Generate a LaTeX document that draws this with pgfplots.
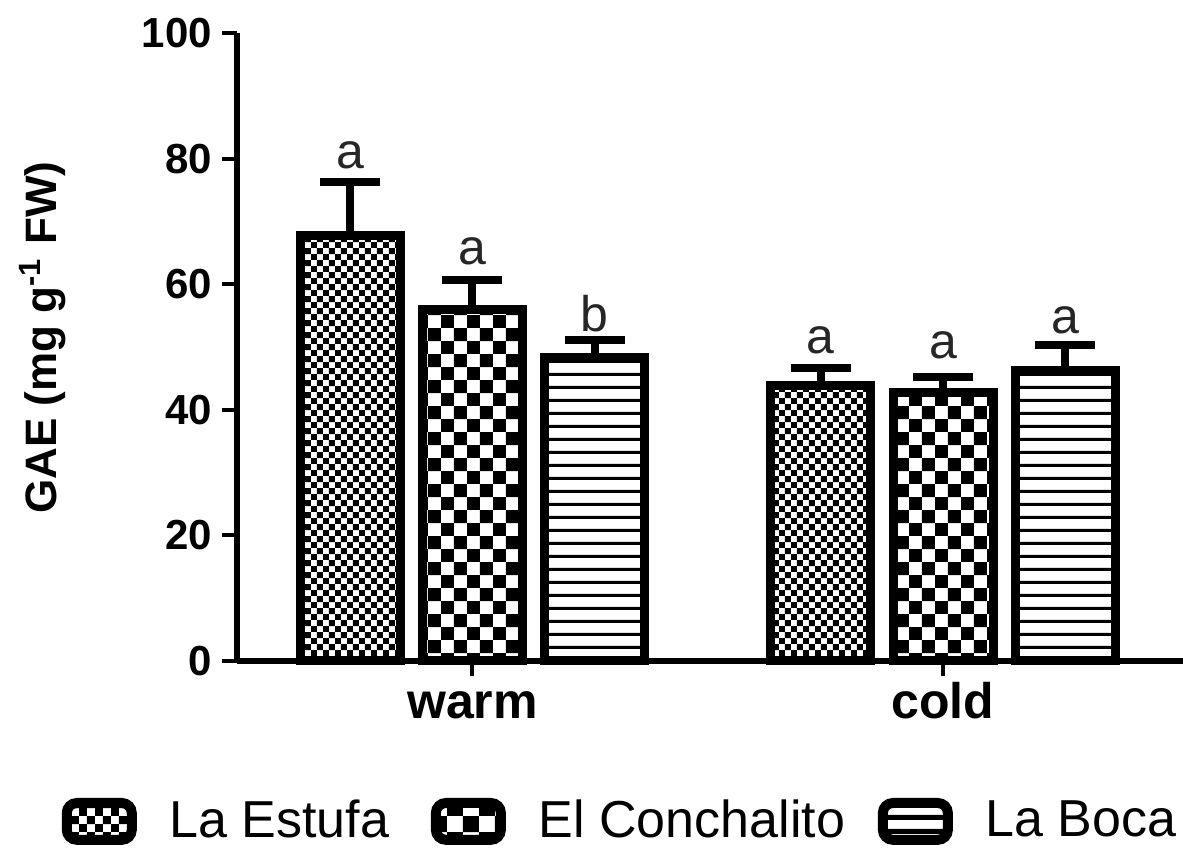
\documentclass[border=0pt]{standalone}
\usepackage{fontspec}
\setmainfont{Liberation Sans}
\usepackage{pgfplots}
\pgfplotsset{compat=1.18}
\usetikzlibrary{patterns.meta}

\pgfdeclarepattern{name=finechecker, type=uncolored,
  bottom left={\pgfpoint{0pt}{0pt}}, top right={\pgfpoint{3pt}{3pt}},
  tile size={\pgfpoint{3pt}{3pt}},
  code={\pgfpathrectangle{\pgfpointorigin}{\pgfpoint{1.5pt}{1.5pt}}
        \pgfpathrectangle{\pgfpoint{1.5pt}{1.5pt}}{\pgfpoint{1.5pt}{1.5pt}}
        \pgfusepath{fill}}}
\pgfdeclarepattern{name=coarsechecker, type=uncolored,
  bottom left={\pgfpoint{0pt}{0pt}}, top right={\pgfpoint{6.5pt}{6.5pt}},
  tile size={\pgfpoint{6.5pt}{6.5pt}},
  code={\pgfpathrectangle{\pgfpointorigin}{\pgfpoint{3.25pt}{3.25pt}}
        \pgfpathrectangle{\pgfpoint{3.25pt}{3.25pt}}{\pgfpoint{3.25pt}{3.25pt}}
        \pgfusepath{fill}}}
\pgfdeclarepattern{name=hstripes, type=uncolored,
  bottom left={\pgfpoint{0pt}{0pt}}, top right={\pgfpoint{1pt}{3.33pt}},
  tile size={\pgfpoint{1pt}{3.33pt}},
  code={\pgfpathrectangle{\pgfpointorigin}{\pgfpoint{1pt}{0.8pt}}
        \pgfusepath{fill}}}
% coarser variants for the legend boxes
\pgfdeclarepattern{name=legfine, type=uncolored,
  bottom left={\pgfpoint{0pt}{0pt}}, top right={\pgfpoint{4pt}{4pt}},
  tile size={\pgfpoint{4pt}{4pt}},
  code={\pgfpathrectangle{\pgfpointorigin}{\pgfpoint{2pt}{2pt}}
        \pgfpathrectangle{\pgfpoint{2pt}{2pt}}{\pgfpoint{2pt}{2pt}}
        \pgfusepath{fill}}}
\pgfdeclarepattern{name=legcoarse, type=uncolored,
  bottom left={\pgfpoint{0pt}{0pt}}, top right={\pgfpoint{8pt}{8pt}},
  tile size={\pgfpoint{8pt}{8pt}},
  code={\pgfpathrectangle{\pgfpointorigin}{\pgfpoint{4pt}{4pt}}
        \pgfpathrectangle{\pgfpoint{4pt}{4pt}}{\pgfpoint{4pt}{4pt}}
        \pgfusepath{fill}}}
\pgfdeclarepattern{name=legstripes, type=uncolored,
  bottom left={\pgfpoint{0pt}{0pt}}, top right={\pgfpoint{1pt}{3.6pt}},
  tile size={\pgfpoint{1pt}{3.6pt}},
  code={\pgfpathrectangle{\pgfpointorigin}{\pgfpoint{1pt}{1.3pt}}
        \pgfusepath{fill}}}

\begin{document}
\begin{tikzpicture}
\begin{axis}[
  scale only axis,
  width=236.5pt, height=157pt,
  xmin=-0.5005, xmax=1.51,
  ymin=0, ymax=100,
  clip=false,
  axis x line*=bottom, axis y line*=left,
  axis line style={line width=1.5pt},
  ybar=5.6pt, bar width=25pt,
  xtick={0,1}, xticklabels={warm,cold},
  ytick={0,20,40,60,80,100},
  tick align=outside,
  major tick length=3.75pt,
  tick style={line width=1pt, black},
  /pgf/number format/assume math mode=true,
  yticklabel style={font=\bfseries\fontsize{10.5}{12}\selectfont, xshift=1pt},
  xticklabel style={font=\bfseries\fontsize{12.5}{14}\selectfont, anchor=base, yshift=-10.5pt},
  ylabel={GAE (mg g\textsuperscript{-1} FW)},
  ylabel style={font=\bfseries\fontsize{11}{12}\selectfont, at={(axis description cs:-0.206,0.515)}, anchor=center},
  legend columns=3,
  legend style={at={(axis description cs:0,0)}, anchor=west, xshift=-44pt, yshift=-40.1pt,
    draw=none, fill=none, inner sep=0pt, font=\fontsize{13}{15}\selectfont,
    /tikz/every odd column/.style={column sep=6.2pt},
    /tikz/column 2/.style={column sep=8.4pt},
    /tikz/column 4/.style={column sep=6.2pt}},
  error bars/y dir=plus, error bars/y explicit,
  error bars/error bar style={line width=2pt, black},
  error bars/error mark options={rotate=90, line width=2pt, mark size=7.5pt, black},
]
\addplot[draw=black, line width=2.25pt, pattern=finechecker, pattern color=black,
  legend image code/.code={\draw[black, line width=2.5pt, rounded corners=2.5pt, pattern=legfine, pattern color=black] (0pt,-4.6pt) rectangle (16.25pt,4.6pt);}]
  coordinates {(0,67.8) +- (0,8.5) (1,43.9) +- (0,2.8)};
\addplot[draw=black, line width=2.25pt, pattern=coarsechecker, pattern color=black,
  legend image code/.code={\draw[black, line width=2.5pt, rounded corners=2.5pt, pattern=legcoarse, pattern color=black] (0pt,-4.6pt) rectangle (16.25pt,4.6pt);}]
  coordinates {(0,55.9) +- (0,4.8) (1,42.8) +- (0,2.4)};
\addplot[draw=black, line width=2.25pt, pattern=hstripes, pattern color=black,
  legend image code/.code={\draw[black, line width=2.5pt, rounded corners=2.5pt, pattern=legstripes, pattern color=black] (0pt,-4.6pt) rectangle (16.25pt,4.6pt);}]
  coordinates {(0,48.4) +- (0,2.7) (1,46.3) +- (0,4.0)};
\legend{La Estufa, El Conchalito, La Boca}
\begin{scope}[every node/.style={anchor=base, inner sep=0pt, font=\fontsize{12.5}{15}\selectfont, text=black!85}]
\node at (axis cs:-0.26,78.5) {a};
\node at (axis cs:0,63.1) {a};
\node at (axis cs:0.26,52.4) {b};
\node at (axis cs:0.74,49.0) {a};
\node at (axis cs:1,48.2) {a};
\node at (axis cs:1.26,52.2) {a};
\end{scope}
\end{axis}
\pgfresetboundingbox
\path[use as bounding box] (-59.25pt,-46.75pt) rectangle (236.5pt,165.25pt);
\end{tikzpicture}
\end{document}
